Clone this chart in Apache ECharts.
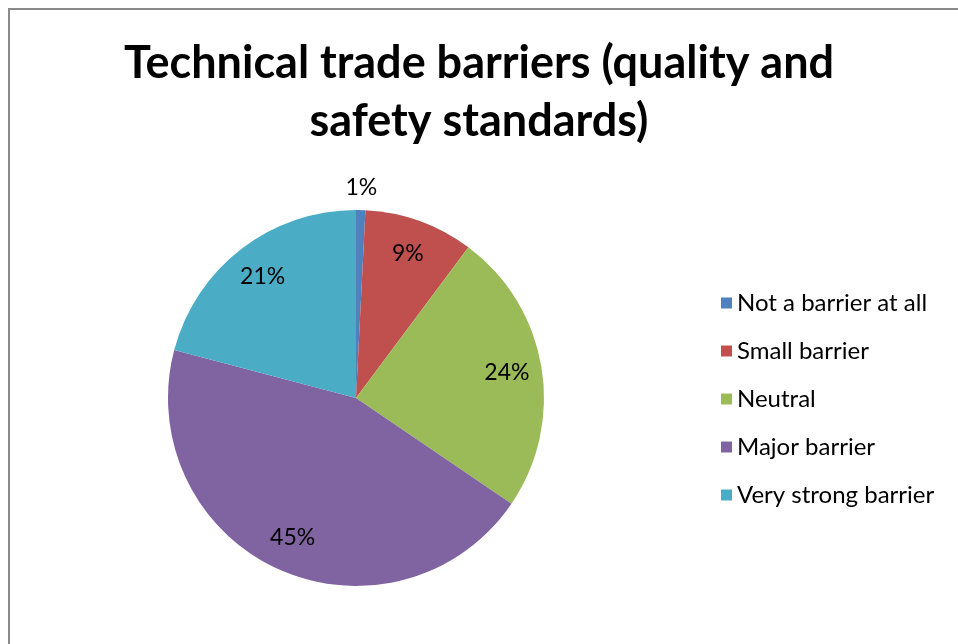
<!DOCTYPE html>
<html>
<head>
<meta charset="utf-8">
<title>Technical trade barriers</title>
<script src="https://cdn.jsdelivr.net/npm/echarts@6/dist/echarts.min.js"></script>
<style>
  html, body { margin: 0; padding: 0; background: #fff; }
  #chart { position: absolute; left: 0; top: 0; width: 958px; height: 644px; }
  .frame {
    position: absolute; left: 8px; top: 8px; width: 1000px; height: 700px;
    border-left: 2px solid #8a8a8a; border-top: 2px solid #8a8a8a;
    pointer-events: none;
  }
</style>
</head>
<body>
<div id="chart"></div>
<div class="frame"></div>
<script>
const titleText = "Technical trade barriers (quality and\nsafety standards)";
const categories = ["Not a barrier at all", "Small barrier", "Neutral", "Major barrier", "Very strong barrier"];
const shares = [0.8, 9.4, 24.3, 44.6, 20.9];
const colors = ["#4f81bd", "#c0504d", "#9bbb59", "#8064a2", "#4bacc6"];

const font = "Lato, 'Open Sans', sans-serif";
const pieCenter = [356, 398];

let chart = echarts.init(document.getElementById("chart"));

// slices, no labels
const sliceData = categories.map((name, i) => ({
  name: name,
  value: shares[i],
  itemStyle: { color: colors[i] }
}));
// labels for the bigger slices sit at about 0.8 of the radius
const innerLabelData = categories.map((name, i) => ({
  name: name,
  value: shares[i],
  label: { show: i !== 0 }
}));
// the tiny slice gets its label just outside the rim
const outerLabelData = categories.map((name, i) => ({
  name: name,
  value: shares[i],
  label: { show: i === 0 }
}));

const pctLabel = p => Math.round(p.percent) + "%";

let option = {
  animation: false,
  title: {
    text: titleText,
    left: "center",
    top: 29,
    textStyle: {
      fontFamily: font,
      fontWeight: "bold",
      fontSize: 45,
      lineHeight: 58,
      color: "#000"
    }
  },
  legend: {
    orient: "vertical",
    left: 716,
    top: 286,
    icon: "rect",
    itemWidth: 11,
    itemHeight: 11,
    itemGap: 24,
    data: categories,
    textStyle: { fontFamily: font, fontSize: 24, color: "#000" }
  },
  series: [
    {
      type: "pie",
      center: pieCenter,
      radius: 188,
      startAngle: 90,
      clockwise: true,
      label: { show: false },
      labelLine: { show: false },
      itemStyle: { borderWidth: 0 },
      data: sliceData
    },
    {
      type: "pie",
      center: pieCenter,
      radius: [100, 200],
      startAngle: 90,
      silent: true,
      itemStyle: { color: "transparent" },
      label: {
        position: "inside",
        formatter: pctLabel,
        fontFamily: font,
        fontSize: 23,
        color: "#000"
      },
      labelLine: { show: false },
      data: innerLabelData
    },
    {
      type: "pie",
      center: pieCenter,
      radius: [188, 226],
      startAngle: 90,
      silent: true,
      itemStyle: { color: "transparent" },
      label: {
        position: "inside",
        formatter: pctLabel,
        fontFamily: font,
        fontSize: 23,
        color: "#000"
      },
      labelLine: { show: false },
      data: outerLabelData
    }
  ]
};

chart.setOption(option);
</script>
</body>
</html>
